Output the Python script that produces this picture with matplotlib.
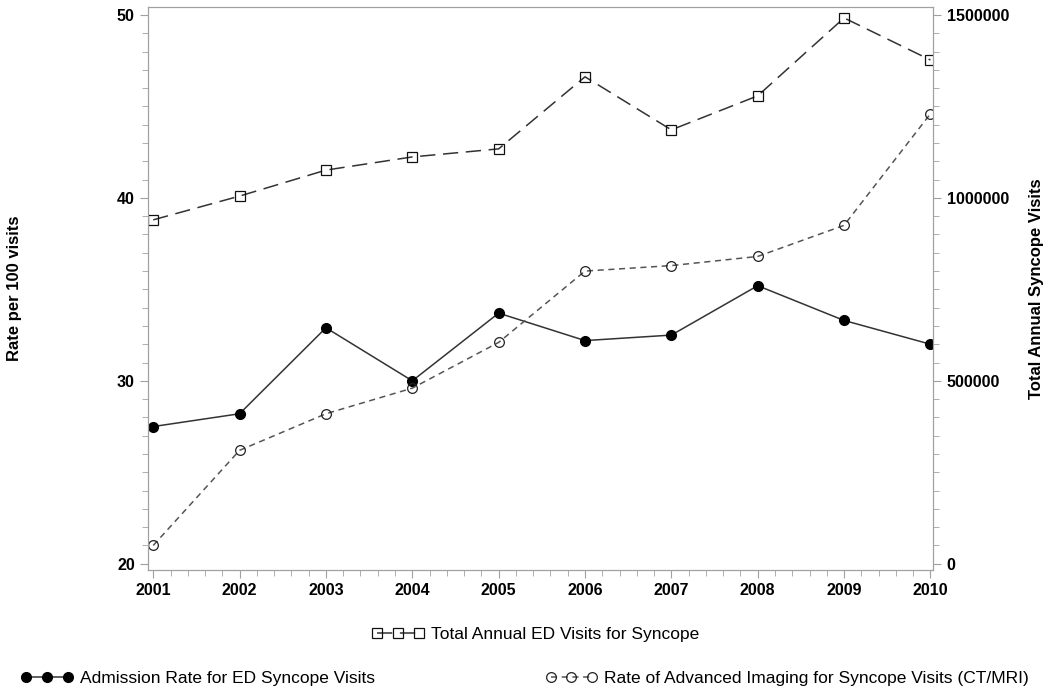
import matplotlib
matplotlib.use("Agg")
import matplotlib.pyplot as plt
from matplotlib.ticker import MultipleLocator

plt.rcParams['font.family'] = ['Liberation Sans', 'DejaVu Sans']

years = [2001, 2002, 2003, 2004, 2005, 2006, 2007, 2008, 2009, 2010]
admission_rate = [27.5, 28.2, 32.9, 30.0, 33.7, 32.2, 32.5, 35.2, 33.3, 32.0]
imaging_rate = [21.0, 26.2, 28.2, 29.6, 32.1, 36.0, 36.3, 36.8, 38.5, 44.6]
total_visits = [940000, 1005000, 1076000, 1112000, 1134000, 1331000, 1186000, 1279000, 1492000, 1377000]

frame_col = '#a0a0a0'

fig = plt.figure(figsize=(10.5, 6.94), dpi=100)
ax = fig.add_axes([0.141, 0.179, 0.748, 0.811])
ax2 = ax.twinx()

l1, = ax.plot(years, admission_rate, color='#333333', lw=1.1, marker='o', ms=7,
              mfc='black', mec='black')
l2, = ax.plot(years, imaging_rate, color='#555555', lw=1.1, ls=(0, (4, 3)), marker='o', ms=7,
              mfc='none', mec='#222222', mew=0.9)
l3, = ax2.plot(years, total_visits, color='#333333', lw=1.1, ls=(0, (10, 5)), marker='s', ms=7.5,
               mfc='none', mec='#111111', mew=0.9)

ax.set_xlim(2000.94, 2010.035)
ax.set_ylim(19.67, 50.44)
ax2.set_ylim((19.67 - 20) * 50000, (50.44 - 20) * 50000)

ax.set_xticks(years)
ax.xaxis.set_minor_locator(MultipleLocator(0.2))
ax.yaxis.set_major_locator(MultipleLocator(10))
ax.yaxis.set_minor_locator(MultipleLocator(1))
ax2.yaxis.set_minor_locator(MultipleLocator(50000))
ax2.set_yticks([0, 500000, 1000000, 1500000])
ax2.set_yticklabels(['0', '500000', '1000000', '1500000'])

for a in (ax, ax2):
    for s in a.spines.values():
        s.set_color(frame_col)
    a.tick_params(which='both', color=frame_col, direction='out')
    a.tick_params(which='major', length=6, labelsize=11.5)
    a.tick_params(which='minor', length=4)
for lab in ax.get_xticklabels() + ax.get_yticklabels() + ax2.get_yticklabels():
    lab.set_fontweight('bold')

ax.set_ylabel('Rate per 100 visits', fontsize=12, fontweight='bold')
ax2.set_ylabel('Total Annual Syncope Visits', fontsize=12, fontweight='bold')
ax.yaxis.set_label_coords(-0.16, 0.5)
ax2.yaxis.set_label_coords(1.122, 0.5)

leg_kw = dict(frameon=False, numpoints=3, handlelength=3.0, handletextpad=0.4, fontsize=12.5)
fig.legend([l3], ['Total Annual ED Visits for Syncope'], loc='center',
           bbox_to_anchor=(0.51, 0.086), **leg_kw)
fig.legend([l1], ['Admission Rate for ED Syncope Visits'], loc='center left',
           bbox_to_anchor=(0.005, 0.022), **leg_kw)
fig.legend([l2], ['Rate of Advanced Imaging for Syncope Visits (CT/MRI)'], loc='center right',
           bbox_to_anchor=(0.995, 0.022), **leg_kw)

fig.savefig('out.png', dpi=100)
